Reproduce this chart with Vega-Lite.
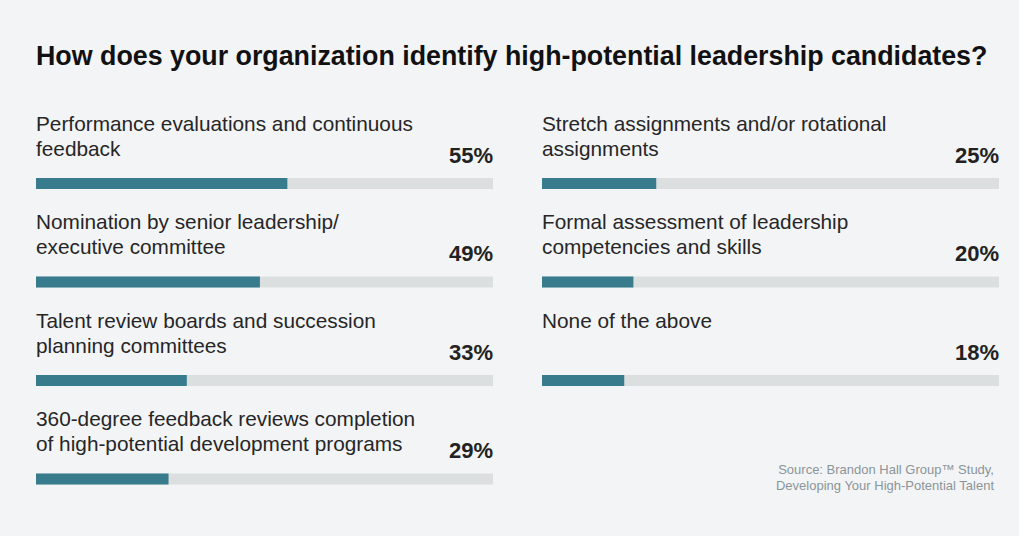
{
  "$schema": "https://vega.github.io/schema/vega-lite/v6.json",
  "background": "#f3f4f6",
  "padding": {"left": 36, "top": 43, "right": 20, "bottom": 66},
  "config": {"font": "Liberation Sans", "view": {"stroke": null}},
  "title": {"text": "How does your organization identify high-potential leadership candidates?", "anchor": "start", "fontSize": 26.8, "fontWeight": "bold", "color": "#111111", "offset": 43},
  "vconcat": [
    {
      "data": {
        "values": [
          {"order": 1, "label": "Performance evaluations and continuous\nfeedback", "value": 0.55},
          {"order": 2, "label": "Stretch assignments and/or rotational\nassignments", "value": 0.25},
          {"order": 3, "label": "Nomination by senior leadership/\nexecutive committee", "value": 0.49},
          {"order": 4, "label": "Formal assessment of leadership\ncompetencies and skills", "value": 0.20},
          {"order": 5, "label": "Talent review boards and succession\nplanning committees", "value": 0.33},
          {"order": 6, "label": "None of the above\n ", "value": 0.18},
          {"order": 7, "label": "360-degree feedback reviews completion\nof high-potential development programs", "value": 0.29}
        ]
      },
      "title": {"text": ["Source: Brandon Hall Group™ Study,", "Developing Your High-Potential Talent"], "orient": "bottom", "anchor": "end", "fontSize": 13, "fontWeight": "normal", "color": "#8b9599", "lineHeight": 16, "offset": 0, "dy": -21, "dx": -5},
      "facet": {
        "field": "label",
        "type": "nominal",
        "sort": {"field": "order"},
        "header": {
          "title": null,
          "labelExpr": "split(datum.value, '\\n')",
          "labelAnchor": "start",
          "labelAlign": "left",
          "labelFontSize": 20.8,
          "labelColor": "#262626",
          "labelLineHeight": 25,
          "labelPadding": -16,
          "labelBaseline": "top"
        }
      },
      "columns": 2,
      "spacing": {"column": 49, "row": 22.5},
      "spec": {
        "width": 457,
        "height": 11,
        "layer": [
          {
            "mark": {"type": "bar", "color": "#dcdfe0", "height": 11},
            "encoding": {
              "x": {"datum": 0, "type": "quantitative", "scale": {"domain": [0, 1], "nice": false}, "axis": null},
              "x2": {"datum": 1}
            }
          },
          {
            "mark": {"type": "bar", "color": "#377b8d", "height": 11},
            "encoding": {
              "x": {"field": "value", "type": "quantitative", "scale": {"domain": [0, 1], "nice": false}, "axis": null}
            }
          },
          {
            "mark": {"type": "text", "align": "right", "baseline": "alphabetic", "fontSize": 22, "fontWeight": "bold", "color": "#222222", "dy": -21},
            "encoding": {
              "x": {"datum": 1, "type": "quantitative"},
              "text": {"field": "value", "type": "quantitative", "format": ".0%"}
            }
          }
        ]
      }
    }
  ]
}
